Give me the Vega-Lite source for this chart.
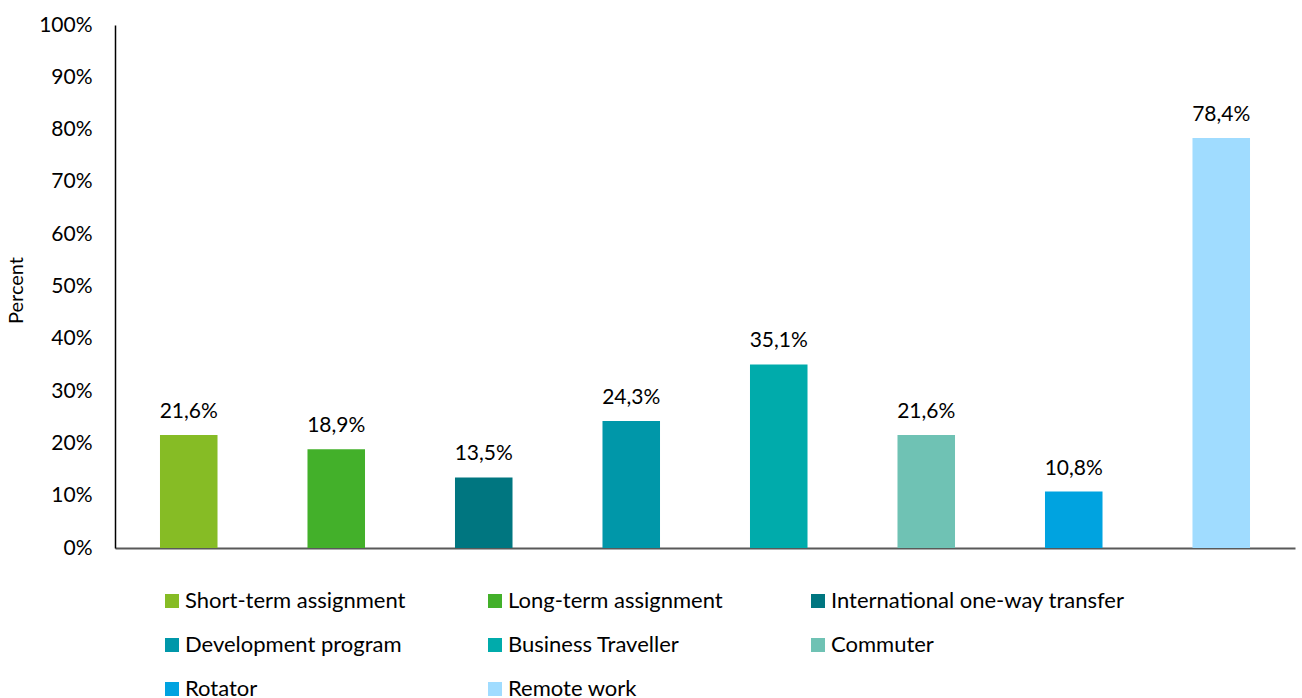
{
  "$schema": "https://vega.github.io/schema/vega-lite/v6.json",
  "autosize": {"type": "none"},
  "width": 1180,
  "height": 523,
  "padding": {"left": 115, "top": 25, "right": 7, "bottom": 150},
  "background": "white",
  "config": {
    "locale": {"number": {"decimal": ",", "thousands": ".", "grouping": [3], "currency": ["", " €"]}},
    "view": {"stroke": null},
    "font": "Lato"
  },
  "data": {
    "values": [
      {"category": "Short-term assignment", "value": 0.216},
      {"category": "Long-term assignment", "value": 0.189},
      {"category": "International one-way transfer", "value": 0.135},
      {"category": "Development program", "value": 0.243},
      {"category": "Business Traveller", "value": 0.351},
      {"category": "Commuter", "value": 0.216},
      {"category": "Rotator", "value": 0.108},
      {"category": "Remote work", "value": 0.784}
    ]
  },
  "encoding": {
    "x": {
      "field": "category",
      "type": "nominal",
      "sort": null,
      "scale": {"paddingInner": 0.61, "paddingOuter": 0.305},
      "axis": {"labels": false, "ticks": false, "title": null, "domainColor": "#595959", "domainWidth": 2}
    },
    "y": {
      "field": "value",
      "type": "quantitative",
      "scale": {"domain": [0, 1]},
      "axis": {
        "format": ".0%",
        "values": [0, 0.1, 0.2, 0.3, 0.4, 0.5, 0.6, 0.7, 0.8, 0.9, 1],
        "labelOverlap": false,
        "grid": false,
        "ticks": false,
        "domainColor": "#000000",
        "domainWidth": 1.5,
        "labelFontSize": 21,
        "labelColor": "#000000",
        "labelPadding": 23,
        "labelFont": "Lato",
        "labelBound": false,
        "title": "Percent",
        "titleFont": "Lato",
        "titleFontWeight": "normal",
        "titleFontSize": 20,
        "titleColor": "#000000",
        "titleX": -99,
        "titleY": 265,
        "titleAngle": -90,
        "titleAlign": "center",
        "titleBaseline": "middle"
      }
    }
  },
  "layer": [
    {
      "mark": {"type": "bar"},
      "encoding": {
        "color": {
          "field": "category",
          "type": "nominal",
          "sort": null,
          "scale": {
            "domain": ["Short-term assignment", "Long-term assignment", "International one-way transfer", "Development program", "Business Traveller", "Commuter", "Rotator", "Remote work"],
            "range": ["#86BC25", "#43B02A", "#007680", "#0097A9", "#00ABAB", "#6FC2B4", "#00A3E0", "#A0DCFF"]
          },
          "legend": {
            "title": null,
            "orient": "none",
            "legendX": 46,
            "legendY": 565,
            "direction": "horizontal",
            "columns": 3,
            "gridAlign": "all",
            "columnPadding": 5,
            "rowPadding": 22,
            "symbolType": "square",
            "symbolSize": 196,
            "symbolStrokeWidth": 0,
            "labelFontSize": 22,
            "labelFont": "Lato",
            "labelColor": "#000000",
            "labelOffset": 2,
            "labelLimit": 400
          }
        }
      }
    },
    {
      "mark": {"type": "text", "baseline": "bottom", "dy": -13, "fontSize": 21, "font": "Lato", "color": "#000000"},
      "encoding": {
        "text": {"field": "value", "type": "quantitative", "format": ".1%"}
      }
    }
  ]
}
